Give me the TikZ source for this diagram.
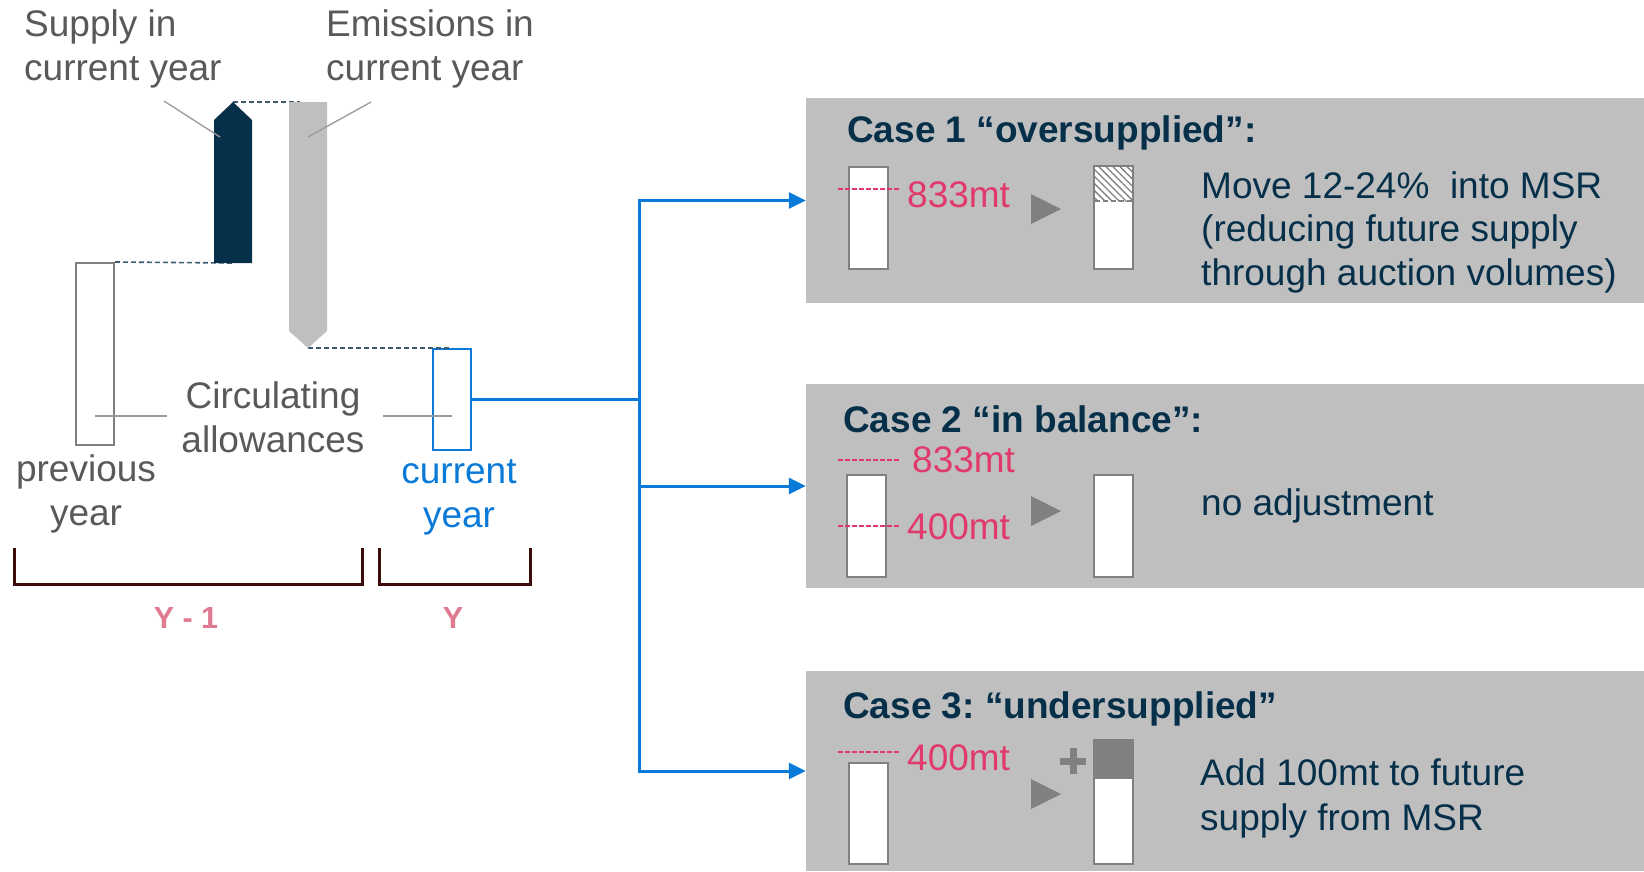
\documentclass[tikz,border=0pt]{standalone}
\usepackage{fontspec}
\setmainfont{Liberation Sans}
\usetikzlibrary{arrows.meta,patterns.meta}
\frenchspacing

\definecolor{txtgray}{HTML}{595959}
\definecolor{navy}{HTML}{06304A}
\definecolor{boxgray}{HTML}{BFBFBF}
\definecolor{midgray}{HTML}{808080}
\definecolor{leadgray}{HTML}{9A9A9A}
\definecolor{mtpink}{HTML}{E2396C}
\definecolor{ypink}{HTML}{E07A92}
\definecolor{flowblue}{HTML}{0A7AD9}
\definecolor{brackred}{HTML}{3E0B0B}
\definecolor{guidecol}{HTML}{3F5B6E}

\tikzset{
  lbl/.style={font=\fontsize{37}{43.5}\selectfont, inner sep=0pt, align=left},
  clbl/.style={lbl, align=center},
  ttl/.style={font=\fontsize{37}{43}\selectfont\bfseries, text=navy, inner sep=0pt, anchor=base west},
  mt/.style={font=\fontsize{37}{43}\selectfont, text=mtpink, inner sep=0pt, anchor=base west},
  ylbl/.style={font=\fontsize{30.5}{36}\selectfont\bfseries, text=ypink, inner sep=0pt, anchor=base},
  valbar/.style={draw=midgray, fill=white, line width=2pt, minimum width=39pt, inner sep=0pt},
  casebox/.style={fill=boxgray, minimum width=838pt, inner sep=0pt},
  guide/.style={draw=guidecol, line width=1.6pt, dash pattern=on 5pt off 3pt},
  leader/.style={draw=leadgray, line width=1.3pt},
  lvl/.style={draw=mtpink, line width=1.4pt, dash pattern=on 4.5pt off 2.5pt},
  brack/.style={draw=brackred, line width=3pt},
  flowline/.style={draw=flowblue, line width=3pt},
  flow/.style={flowline, -{Triangle[length=17pt,width=16pt]}},
  tri/.style={fill=midgray}
}

\begin{document}
\begin{tikzpicture}[x=1pt,y=-1pt]
  \useasboundingbox (0,0) rectangle (1644,871);

  % --- labels on top (anchored at the last line) ---
  \node[lbl, text=txtgray, anchor=base west] (suplbl) at (24,80) {Supply in\\current year};
  \node[lbl, text=txtgray, anchor=base west] (emislbl) at (326,80) {Emissions in\\current year};

  % --- year boxes ---
  \node[valbar, minimum width=38pt, minimum height=182pt] (prev) at (95,354) {};
  \node[valbar, draw=flowblue, minimum width=38pt, minimum height=101pt] (cur) at (452,399.5) {};

  % --- dashed guides ---
  \coordinate (suptip) at (233,102);
  \coordinate (supfoot) at (233,263);
  \coordinate (emistop) at (300,102);
  \coordinate (emistip) at (308,348);
  \draw[guide] (prev.north east) -- (supfoot);
  \draw[guide] (suptip) -- (emistop);
  \draw[guide] (emistip) -- (cur.north);

  % --- supply and emissions ---
  \fill[navy] (214,263) -- (214,120) -- (suptip) -- (252,120) -- (252,263) -- cycle;
  \fill[boxgray] (289,102) -- (327,102) -- (327,331) -- (emistip) -- (289,331) -- cycle;
  \draw[leader] (164,101) -- (220,137);
  \draw[leader] (371,102) -- (308,137);

  % --- circulating allowances ---
  \node[clbl, text=txtgray, anchor=base] (circ) at (273,452) {Circulating\\allowances};
  \draw[leader] ([yshift=-62pt]prev.center) -- ++(72,0);
  \draw[leader] ([yshift=-16.5pt]cur.center) -- ++(-69,0);
  \node[clbl, text=txtgray, anchor=base] (prevlbl) at (86,525) {previous\\year};
  \node[clbl, text=flowblue, anchor=base] (curlbl) at (459,527) {current\\year};

  % --- year brackets ---
  \draw[brack] (14,548) -- (14,584) -- (362,584) -- (362,548);
  \draw[brack] (379,548) -- (379,584) -- (530,584) -- (530,548);
  \node[ylbl] (yprev) at (186,628) {Y - 1};
  \node[ylbl] (ycur) at (453,628) {Y};

  % --- case boxes ---
  \node[casebox, minimum height=205pt] (case1) at (1225,200.5) {};
  \node[casebox, minimum height=204pt] (case2) at (1225,486) {};
  \node[casebox, minimum height=200pt] (case3) at (1225,771) {};

  % --- flow to the cases ---
  \coordinate (split) at (639,399.5);
  \draw[flowline] (cur.east) -- (split);
  \draw[flow] (split) |- (case1.west);
  \draw[flow] (split) |- (case2.west);
  \draw[flow] (split) |- (case3.west);

  % --- case 1 ---
  \node[ttl] (t1) at (847,142) {Case 1 “oversupplied”:};
  \node[valbar, minimum height=102pt] (b1in) at (868.5,218) {};
  \draw[lvl] (838,189) -- (900,189);
  \node[mt] (m1) at (907,207) {833mt};
  \fill[tri] (1031,194) -- (1061,209) -- (1031,224) -- cycle;
  \node[valbar, minimum height=103pt] (b1out) at (1113.5,217.5) {};
  \path[pattern={Lines[angle=-45,distance=5pt,line width=1.3pt]}, pattern color=midgray] (1095,167) rectangle (1132,201);
  \draw[midgray, line width=1.5pt, dash pattern=on 5pt off 3pt] (1095,201) -- (1132,201);
  \node[lbl, text=navy, anchor=base west] (d1) at (1201,285) {Move 12-24\%~ into MSR\\(reducing future supply\\through auction volumes)};

  % --- case 2 ---
  \node[ttl] (t2) at (843,432) {Case 2 “in balance”:};
  \draw[lvl] (838,460) -- (900,460);
  \node[mt] (m2a) at (912,472) {833mt};
  \node[valbar, minimum height=102pt] (b2in) at (866.5,526) {};
  \draw[lvl] (838,526) -- (900,526);
  \node[mt] (m2b) at (907,539) {400mt};
  \fill[tri] (1031,496) -- (1061,511) -- (1031,526) -- cycle;
  \node[valbar, minimum height=102pt] (b2out) at (1113.5,526) {};
  \node[lbl, text=navy, anchor=base west] (d2) at (1201,515) {no adjustment};

  % --- case 3 ---
  \node[ttl] (t3) at (843,718) {Case 3: “undersupplied”};
  \draw[lvl] (838,752) -- (900,752);
  \node[mt] (m3) at (907,770) {400mt};
  \node[valbar, minimum height=101pt] (b3in) at (868.5,813.5) {};
  \fill[tri] (1031,779) -- (1061,794) -- (1031,809) -- cycle;
  \draw[midgray, line width=7pt] (1060,761) -- (1086,761) (1073,748) -- (1073,774);
  \node[valbar, minimum height=124pt] (b3out) at (1113.5,802) {};
  \fill[midgray] (1093,739) rectangle (1134,779);
  \node[lbl, text=navy, anchor=base west, font=\fontsize{37}{45}\selectfont] (d3) at (1200,830) {Add 100mt to future\\supply from MSR};

\end{tikzpicture}
\end{document}
